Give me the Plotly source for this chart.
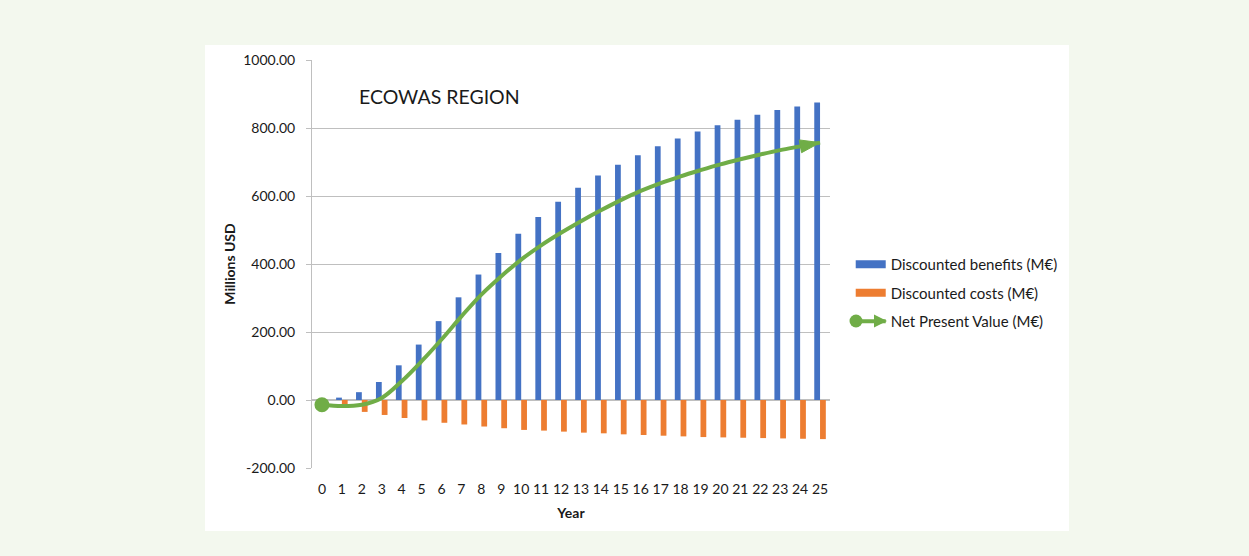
import math
import plotly.graph_objects as go

# Cost-benefit series for the ECOWAS region (millions)
years = list(range(26))
benefits = [0, 7, 23, 53, 102, 163, 232, 302, 369, 432, 489, 538, 583, 624,
            660, 692, 720, 746, 769, 790, 808, 824, 839, 853, 863, 875]
costs = [0, -20, -35, -44, -53, -60, -67, -72, -78, -83, -88, -90, -93, -96,
         -98, -101, -103, -105, -107, -109, -110, -111, -112, -113, -114, -115]
npv = [-14, -18, -14, 6, 55, 114, 178, 246, 310, 364, 413, 455, 492, 526,
       558, 588, 615, 638, 658, 676, 693, 708, 722, 735, 746, 757]

y_ticks = [-200, 0, 200, 400, 600, 800, 1000]
y_tick_text = [f"{v:.2f}" for v in y_ticks]

BLUE = "#4472C4"
ORANGE = "#ED7D31"
GREEN = "#70AD47"
FONT = "Lato"

W, H = 1249, 556
M = dict(l=312, r=419, t=60, b=88)
X_RANGE = [-0.5, 25.5]
Y_RANGE = [-200, 1000]
PLOT_W = W - M["l"] - M["r"]
PLOT_H = H - M["t"] - M["b"]


def px_to_paper(px, py):
    """Page pixel position -> paper coordinates of the plot area."""
    return (px - M["l"]) / PLOT_W, (H - M["b"] - py) / PLOT_H


# direction of the final NPV segment in screen space, for the arrow head
px_per_x = PLOT_W / (X_RANGE[1] - X_RANGE[0])
px_per_y = PLOT_H / (Y_RANGE[1] - Y_RANGE[0])
dx = (years[-1] - years[-2]) * px_per_x
dy = (npv[-1] - npv[-2]) * px_per_y
arrow_angle = 90 - math.degrees(math.atan2(dy, dx))

fig = go.Figure()

fig.add_trace(go.Bar(x=years, y=benefits, name="Discounted benefits (M€)",
                     marker=dict(color=BLUE, line_width=0), showlegend=False))
fig.add_trace(go.Bar(x=years, y=costs, name="Discounted costs (M€)",
                     marker=dict(color=ORANGE, line_width=0), showlegend=False))

# NPV curve
fig.add_trace(go.Scatter(
    x=years, y=npv, mode="lines", name="Net Present Value (M€)",
    line=dict(color=GREEN, width=4, shape="spline", smoothing=1.0),
    showlegend=False))
# round start marker
fig.add_trace(go.Scatter(
    x=years[:1], y=npv[:1], mode="markers", showlegend=False,
    marker=dict(symbol="circle", size=15, color=GREEN, line_width=0, opacity=1)))
# arrow head at the end
fig.add_trace(go.Scatter(
    x=years[-1:], y=npv[-1:], mode="markers", showlegend=False,
    marker=dict(symbol="arrow", size=21, color=GREEN, opacity=1,
                line=dict(width=1, color=GREEN), angle=arrow_angle)))

# legend entries
fig.add_trace(go.Scatter(x=[None], y=[None], mode="lines", name="Discounted benefits (M€)",
                         line=dict(color=BLUE, width=8), legendgroup="a"))
fig.add_trace(go.Scatter(x=[None], y=[None], mode="lines", name="Discounted costs (M€)",
                         line=dict(color=ORANGE, width=8), legendgroup="b"))
fig.add_trace(go.Scatter(x=[None], y=[None], mode="lines", name="Net Present Value (M€)",
                         line=dict(color=GREEN, width=4), legendgroup="c"))

# circle and arrow tips on the NPV legend key
dot_x, dot_y = px_to_paper(856, 321)
tip_x, tip_y = px_to_paper(887, 321)
legend_key_shapes = [
    dict(type="circle", xref="paper", yref="paper", xsizemode="pixel", ysizemode="pixel",
         xanchor=dot_x, yanchor=dot_y, x0=-6.5, x1=6.5, y0=-6.5, y1=6.5,
         fillcolor=GREEN, line_width=0, layer="above"),
    dict(type="path", xref="paper", yref="paper", xsizemode="pixel", ysizemode="pixel",
         xanchor=tip_x, yanchor=tip_y, path="M 0 0 L -13 6.5 L -13 -6.5 Z",
         fillcolor=GREEN, line_width=0, layer="above"),
]

bx0, by0 = px_to_paper(205, 531)
bx1, by1 = px_to_paper(1069, 45)
title_x, title_y = px_to_paper(357, 96)

fig.update_layout(
    width=W, height=H,
    margin=M,
    paper_bgcolor="#F3F8EE",
    plot_bgcolor="white",
    font=dict(family=FONT, size=14, color="#404040"),
    barmode="group", bargap=0.42, bargroupgap=0,
    showlegend=True,
    legend=dict(x=1.04, y=0.539, xanchor="left", yanchor="top",
                bgcolor="rgba(0,0,0,0)", font=dict(size=15, color="#1a1a1a"),
                traceorder="grouped", tracegroupgap=6, itemwidth=30),
    shapes=[dict(type="rect", xref="paper", yref="paper",
                 x0=bx0, x1=bx1, y0=by0, y1=by1,
                 fillcolor="white", line_width=0, layer="below")] + legend_key_shapes,
    annotations=[dict(text="ECOWAS REGION", xref="paper", yref="paper",
                      x=title_x, y=title_y,
                      xanchor="left", yanchor="middle", showarrow=False,
                      font=dict(size=19.5, color="#1a1a1a"))],
)

fig.update_xaxes(
    range=X_RANGE, tickmode="array", tickvals=years,
    ticktext=[str(y) for y in years], showgrid=False, ticks="",
    showline=False, zeroline=False, ticklabelstandoff=11,
    tickfont=dict(size=14, color="#1a1a1a"),
    title=dict(text="<b>Year</b>", font=dict(size=14, color="#1a1a1a"), standoff=12),
)
fig.update_yaxes(
    range=Y_RANGE, tickmode="array", tickvals=y_ticks, ticktext=y_tick_text,
    showgrid=True, gridcolor="#BFBFBF", gridwidth=1,
    zeroline=True, zerolinecolor="#BFBFBF", zerolinewidth=2,
    showline=True, linecolor="#BFBFBF", linewidth=1,
    ticks="outside", ticklen=5, tickcolor="#BFBFBF", ticklabelstandoff=8,
    tickfont=dict(size=14, color="#1a1a1a"),
    title=dict(text="<b>Millions USD</b>", font=dict(size=14, color="#1a1a1a"), standoff=4),
)

fig.write_html("out.html")
